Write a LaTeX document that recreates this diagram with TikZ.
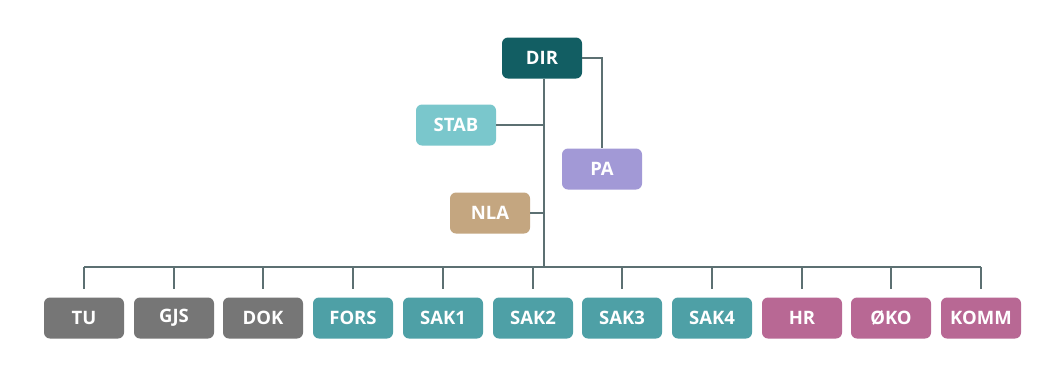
\documentclass[tikz,border=0pt]{standalone}
\usepackage{fontspec}
\setmainfont{Open Sans}
\definecolor{dirteal}{RGB}{18, 94, 99}
\definecolor{stabteal}{RGB}{122, 199, 204}
\definecolor{palilac}{RGB}{162, 153, 214}
\definecolor{nlatan}{RGB}{196, 166, 128}
\definecolor{unitgrey}{RGB}{118, 118, 118}
\definecolor{unitteal}{RGB}{78, 160, 166}
\definecolor{unitpink}{RGB}{184, 104, 148}
\definecolor{linegrey}{RGB}{92, 112, 114}
\usetikzlibrary{positioning, calc}

\tikzset{
  unit/.style={rounded corners=6pt, minimum width=80pt, minimum height=41pt, inner sep=0pt,
    text=white, font=\fontsize{18.5}{20}\selectfont\bfseries},
  link/.style={draw=linegrey, line width=1.4pt}
}

\begin{document}
\begin{tikzpicture}[x=1pt, y=-1pt]
  \useasboundingbox[fill=white] (0,0) rectangle (1045,376);

  % Top level
  \node[unit, fill=dirteal] (dir) at (542, 58) {DIR};
  \node[unit, fill=stabteal] (stab) at (456, 125) {STAB};
  \node[unit, fill=palilac] (pa) at (602, 169) {PA};
  \node[unit, fill=nlatan] (nla) at (490, 213) {NLA};

  % Units
  \node[unit, fill=unitgrey] (tu) at (84, 318) {TU};
  \node[unit, fill=unitgrey] (gjs) at (174, 318) {GJS};
  \node[unit, fill=unitgrey] (dok) at (263, 318) {DOK};
  \node[unit, fill=unitteal] (fors) at (353, 318) {FORS};
  \node[unit, fill=unitteal] (sak1) at (443, 318) {SAK1};
  \node[unit, fill=unitteal] (sak2) at (533, 318) {SAK2};
  \node[unit, fill=unitteal] (sak3) at (622, 318) {SAK3};
  \node[unit, fill=unitteal] (sak4) at (712, 318) {SAK4};
  \node[unit, fill=unitpink] (hr) at (802, 318) {HR};
  \node[unit, fill=unitpink] (oko) at (891, 318) {ØKO};
  \node[unit, fill=unitpink] (komm) at (981, 318) {KOMM};

  % Connectors
  \coordinate (bus) at (544, 267);
  \draw[link] (dir.south -| bus) -- (bus);
  \draw[link] (stab.east) -- (stab.east -| bus);
  \draw[link] (nla.east) -- (nla.east -| bus);
  \draw[link] (dir.east) -| (pa.north);
  \draw[link] (bus -| tu.north) -- (bus -| komm.north);
  \foreach \u in {tu, gjs, dok, fors, sak1, sak2, sak3, sak4, hr, oko, komm}
    \draw[link] (bus -| \u.north) -- ([yshift=8pt]\u.north);
\end{tikzpicture}
\end{document}
